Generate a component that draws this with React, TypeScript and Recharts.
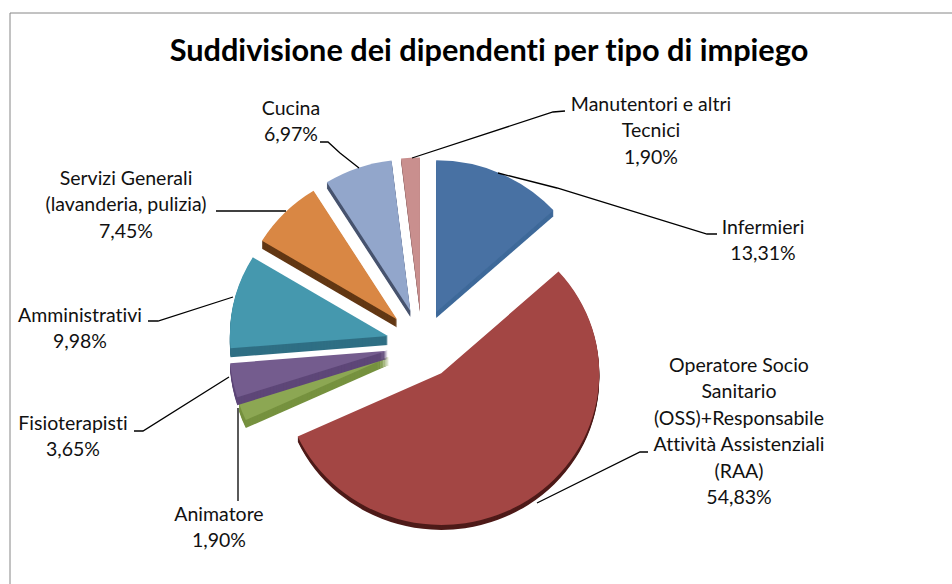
import { PieChart, Pie, Cell, Sector } from 'recharts';

const categories = [
    'Infermieri',
    'Operatore Socio Sanitario (OSS)+Responsabile Attività Assistenziali (RAA)',
    'Animatore',
    'Fisioterapisti',
    'Amministrativi',
    'Servizi Generali (lavanderia, pulizia)',
    'Cucina',
    'Manutentori e altri Tecnici',
];
const values = [13.31, 54.83, 1.9, 3.65, 9.98, 7.45, 6.97, 1.9];
const labelRows = [
    ['Infermieri'],
    ['Operatore Socio', 'Sanitario', '(OSS)+Responsabile', 'Attività Assistenziali', '(RAA)'],
    ['Animatore'],
    ['Fisioterapisti'],
    ['Amministrativi'],
    ['Servizi Generali', '(lavanderia, pulizia)'],
    ['Cucina'],
    ['Manutentori e altri', 'Tecnici'],
];

// layout only: label anchors and leader lines
const labelPos = [[763, 228], [739, 366], [219, 515], [73, 424], [80, 316], [126, 179], [291, 109], [651, 105]];
const leaders = [
    '717,234 707,234 557,188 498,173',
    '648,452 640,452 537,503',
    '238,408 238,501',
    '134,431 143,431 229,377',
    '148,321 158,321 233,297',
    '216,211 286,211',
    '320,142 328,142 340,153 359,168',
    '565,111 553,112 412,158',
];

const COLORS = ['#4871A3', '#A34644', '#8CA753', '#745C8E', '#4598AE', '#D98744', '#92A6CB', '#C98F8E'];
const DARK = ['#3F6A9A', '#4E1B19', '#76913F', '#5E4778', '#2F6F84', '#623714', '#47536E', '#8F6464'];
// side wall height of each slice, the left ones look thicker in the reference
const DEPTHS = [6, 5, 8, 8, 9, 8, 6, 3];

const EXPLODE = 35;
const SCALE_Y = 0.96;

const Slice = (props: any) => {
    const { cx, cy, outerRadius, startAngle, endAngle, index } = props;
    const mid = ((startAngle + endAngle) / 2) * (Math.PI / 180);
    const ox = cx + EXPLODE * Math.cos(mid);
    const oy = cy - EXPLODE * Math.sin(mid);
    const layers = [];
    for (let d = DEPTHS[index]; d > 0; d--) {
        layers.push(d);
    }
    const sector = (fill: string) => (
        <Sector cx={0} cy={0} innerRadius={0} outerRadius={outerRadius} startAngle={startAngle} endAngle={endAngle} fill={fill} stroke="none" />
    );
    return (
        <g>
            {layers.map((d) => (
                <g key={d} transform={`translate(${ox} ${oy + d}) scale(1 ${SCALE_Y})`}>{sector(DARK[index])}</g>
            ))}
            <g transform={`translate(${ox} ${oy}) scale(1 ${SCALE_Y})`}>{sector(COLORS[index])}</g>
        </g>
    );
};

const renderLabel = (props: any) => {
    const i = props.index;
    const [x, y] = labelPos[i];
    const rows = [...labelRows[i], `${values[i].toFixed(2).replace('.', ',')}%`];
    return (
        <g key={i}>
            <polyline points={leaders[i]} fill="none" stroke="#000" strokeWidth={1.3} />
            {rows.map((row, r) => (
                <text key={r} x={x} y={y + r * 26.4} dy={6} textAnchor="middle" fontFamily="Lato" fontSize={19.5} fill="#111" style={{ fontVariantLigatures: 'none' }}>
                    {row}
                </text>
            ))}
        </g>
    );
};

const data = categories.map((name, i) => ({ name, value: values[i] }));

export default function App() {
    return (
        <div style={{ position: 'absolute', left: 0, top: 0, width: 952, height: 584, background: '#fff' }}>
            <PieChart width={952} height={584} margin={{ top: 0, right: 0, bottom: 0, left: 0 }}>
                <line x1={10} y1={13} x2={952} y2={13} stroke="#868686" strokeWidth={1} />
                <line x1={10} y1={13} x2={10} y2={584} stroke="#868686" strokeWidth={1} />
                <text x={489} y={61} textAnchor="middle" fontFamily="Lato" fontWeight={700} fontSize={30.7} fill="#000" style={{ fontVariantLigatures: 'none' }}>
                    Suddivisione dei dipendenti per tipo di impiego
                </text>
                <Pie
                    data={data}
                    dataKey="value"
                    nameKey="name"
                    cx={422}
                    cy={344}
                    innerRadius={0}
                    outerRadius={158}
                    startAngle={90}
                    endAngle={-270}
                    stroke="none"
                    isAnimationActive={false}
                    shape={Slice}
                    label={renderLabel}
                    labelLine={false}
                >
                    {data.map((entry, index) => (
                        <Cell key={`cell-${index}`} fill={COLORS[index]} />
                    ))}
                </Pie>
            </PieChart>
        </div>
    );
}
